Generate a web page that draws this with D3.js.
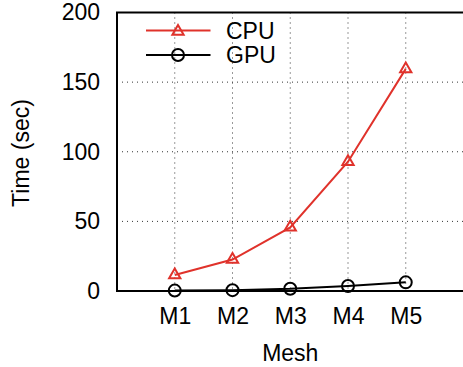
<!DOCTYPE html>
<html><head><meta charset="utf-8">
<script src="https://cdn.jsdelivr.net/npm/d3@7"></script>
<style>body{margin:0;background:#fff}svg{display:block}text{font-family:"Liberation Sans",Arial,sans-serif;fill:#000}</style>
</head><body><svg id="c" width="463" height="367"></svg>
<script>
const categories = ["M1","M2","M3","M4","M5"];
const cpu = [11.5, 22.6, 45.7, 92.8, 159.5];
const gpu = [0.3, 0.6, 1.6, 3.6, 6.2];
const yTicks = [0, 50, 100, 150, 200];

const svg = d3.select("#c");
const FS = 23;
const L = 117, T = 12.5, B = 291, R = 463.5;
const x = d3.scaleLinear().domain([0, 6]).range([L, R]);
const y = d3.scaleLinear().domain([0, 200]).range([B, T]);
const red = "#e0322b";

// grid
const g = svg.append("g");
g.selectAll("line.v").data(categories).enter().append("line")
  .attr("x1", (d,i)=>x(i+1)).attr("x2",(d,i)=>x(i+1)).attr("y1", T).attr("y2", B)
  .attr("stroke", "#333").attr("stroke-width", 1).attr("stroke-dasharray", "1,4");
g.selectAll("line.h").data(yTicks.filter(v=>v>0&&v<200)).enter().append("line")
  .attr("x1", L).attr("x2", R).attr("y1", d=>y(d)).attr("y2", d=>y(d))
  .attr("stroke", "#333").attr("stroke-width", 1).attr("stroke-dasharray", "1,4");

// axes
const yAxis = d3.axisLeft(y).tickValues(yTicks).tickSize(0).tickPadding(17);
const ya = svg.append("g").attr("transform", `translate(${L},0)`).call(yAxis);
ya.select(".domain").remove();
ya.selectAll("text").attr("font-size", FS).attr("font-family", "Liberation Sans, Arial, sans-serif").attr("fill","#000");

const xAxis = d3.axisBottom(x).tickValues(categories.map((d,i)=>i+1)).tickFormat((d)=>categories[d-1]).tickSize(0).tickPadding(16.5);
const xa = svg.append("g").attr("transform", `translate(0,${B})`).call(xAxis);
xa.select(".domain").remove();
xa.selectAll("text").attr("font-size", FS).attr("font-family", "Liberation Sans, Arial, sans-serif").attr("fill","#000");

// frame
svg.append("path").attr("d", `M${R},${T}H${L}V${B}H${R}`).attr("fill","none").attr("stroke","#000").attr("stroke-width",2);

// titles
svg.append("text").attr("transform", `translate(29,153) rotate(-90)`).attr("text-anchor","middle").attr("font-size",FS).text("Time (sec)");
svg.append("text").attr("x", x(3)).attr("y", 361).attr("text-anchor","middle").attr("font-size",FS).text("Mesh");

// lines
const line = d3.line().x((d,i)=>x(i+1)).y(d=>y(d));
svg.append("path").datum(gpu).attr("d", line).attr("fill","none").attr("stroke","#000").attr("stroke-width",2);
svg.append("path").datum(cpu).attr("d", line).attr("fill","none").attr("stroke",red).attr("stroke-width",2);

const tri = d3.symbol().type(d3.symbolTriangle).size(55);
svg.selectAll("path.tri").data(cpu).enter().append("path")
  .attr("d", tri).attr("transform", (d,i)=>`translate(${x(i+1)},${y(d)})`)
  .attr("fill","none").attr("stroke",red).attr("stroke-width",2);
svg.selectAll("circle.g").data(gpu).enter().append("circle")
  .attr("cx",(d,i)=>x(i+1)).attr("cy",d=>y(d)).attr("r",6)
  .attr("fill","none").attr("stroke","#000").attr("stroke-width",2);

// legend
const leg = [{name:"CPU", c:red, m:"tri", y:30.5},{name:"GPU", c:"#000", m:"circ", y:55}];
leg.forEach(l=>{
  svg.append("line").attr("x1",146).attr("x2",210.5).attr("y1",l.y).attr("y2",l.y).attr("stroke",l.c).attr("stroke-width",2);
  if(l.m==="tri") svg.append("path").attr("d",tri).attr("transform",`translate(178,${l.y+1})`).attr("fill","none").attr("stroke",l.c).attr("stroke-width",2);
  else svg.append("circle").attr("cx",178).attr("cy",l.y).attr("r",6).attr("fill","none").attr("stroke",l.c).attr("stroke-width",2);
  svg.append("text").attr("x",226).attr("y",l.y+8).attr("font-size",FS).text(l.name);
});
</script></body></html>
